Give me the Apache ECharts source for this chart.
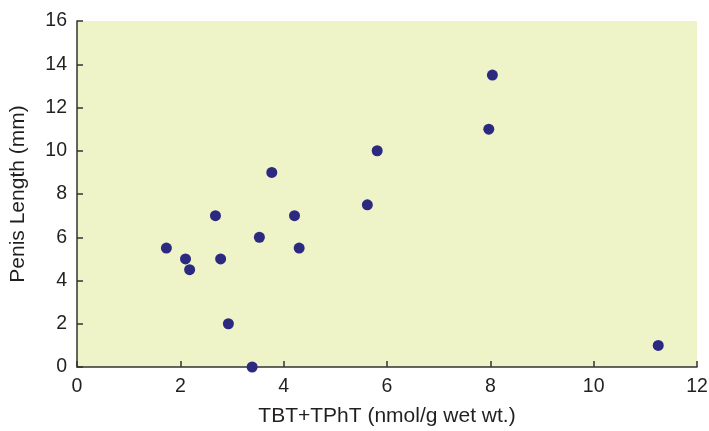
<!DOCTYPE html>
<html><head><meta charset="utf-8">
<script src="https://cdn.jsdelivr.net/npm/echarts@6/dist/echarts.min.js"></script>
<style>html,body{margin:0;padding:0;background:#fff}#c{width:709px;height:431px}</style>
</head><body><div id="c"></div>
<script>
const xValues = [1.73, 2.10, 2.18, 2.68, 2.78, 2.93, 3.39, 3.53, 3.77, 4.21, 4.30, 5.62, 5.81, 7.97, 8.04, 11.25];
const yValues = [5.5, 5.0, 4.5, 7.0, 5.0, 2.0, 0.0, 6.0, 9.0, 7.0, 5.5, 7.5, 10.0, 11.0, 13.5, 1.0];
const xName = 'TBT+TPhT (nmol/g wet wt.)';
const yName = 'Penis Length (mm)';
const points = xValues.map((x, i) => [x, yValues[i]]);
const font = 'Liberation Sans, Arial, Helvetica, sans-serif';
const chart = echarts.init(document.getElementById('c'));
chart.setOption({
  animation: false,
  grid: {left: 77, right: 12, top: 21, bottom: 64, show: true, backgroundColor: '#EEF3C8', borderWidth: 0, outerBoundsMode: 'none', containLabel: false},
  xAxis: {
    type: 'value', min: 0, max: 12, interval: 2,
    name: xName, nameLocation: 'middle', nameGap: 39, nameMoveOverlap: false,
    nameTextStyle: {fontFamily: font, fontSize: 21, color: '#231F20'},
    axisLine: {show: true, onZero: false, lineStyle: {color: '#333', width: 1.5}},
    axisTick: {show: true, inside: true, length: 6, lineStyle: {color: '#333', width: 1.5}},
    axisLabel: {fontFamily: font, fontSize: 19.5, color: '#231F20', margin: 10},
    splitLine: {show: false}
  },
  yAxis: {
    type: 'value', min: 0, max: 16, interval: 2,
    name: yName, nameLocation: 'middle', nameGap: 48, nameMoveOverlap: false,
    nameTextStyle: {fontFamily: font, fontSize: 21, color: '#231F20'},
    axisLine: {show: true, onZero: false, lineStyle: {color: '#333', width: 1.5}},
    axisTick: {show: true, inside: true, length: 6, lineStyle: {color: '#333', width: 1.5}},
    axisLabel: {fontFamily: font, fontSize: 19.5, color: '#231F20', margin: 10},
    splitLine: {show: false}
  },
  series: [{
    type: 'scatter', data: points, symbol: 'circle', symbolSize: 11,
    itemStyle: {color: '#2B2A80', opacity: 1}, clip: false
  }]
});
</script></body></html>
